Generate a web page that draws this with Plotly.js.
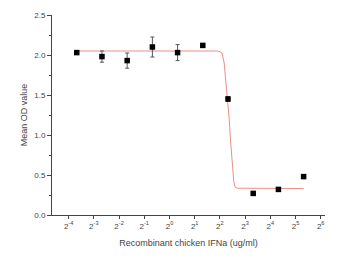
<!DOCTYPE html>
<html>
<head>
<meta charset="utf-8">
<script src="https://cdn.plot.ly/plotly-3.0.1.min.js"></script>
<style>html,body{margin:0;padding:0;background:#fff;}#chart{width:351px;height:259px;}</style>
</head>
<body>
<div id="chart"></div>
<script>
// Concentrations (ug/ml) of recombinant chicken IFNa
const concentrations = [0.078125, 0.15625, 0.3125, 0.625, 1.25, 2.5, 5, 10, 20, 40];
// Mean OD values
const meanOD = [2.03, 1.98, 1.93, 2.10, 2.03, 2.12, 1.45, 0.27, 0.32, 0.48];
// Error (SD) values
const errorOD = [0.02, 0.07, 0.095, 0.125, 0.10, 0.02, 0.03, 0.02, 0.01, 0.01];
// Fitted curve
const fitX = [0.078125, 3.73, 4.03, 4.26, 4.50, 4.76, 4.99, 5.17, 5.39, 5.62, 5.86, 6.06, 6.41, 40];
const fitY = [2.05, 2.05, 2.04, 2.02, 1.90, 1.62, 1.42, 1.20, 0.90, 0.60, 0.42, 0.35, 0.335, 0.33];
// X tick exponents / labels
const tickExp = [-4, -3, -2, -1, 0, 1, 2, 3, 4, 5, 6];
const tickVals = tickExp.map(e => Math.pow(2, e));
const tickText = tickExp.map(e => '2<sup>' + e + '</sup>');

const traces = [
  {
    x: fitX, y: fitY, type: 'scatter', mode: 'lines',
    line: {color: 'rgb(232,145,135)', width: 1}, hoverinfo: 'skip'
  },
  {
    x: concentrations, y: meanOD, type: 'scatter', mode: 'markers',
    marker: {symbol: 'square', size: 5.5, color: '#000'},
    error_y: {type: 'data', array: errorOD, visible: true, color: '#555', thickness: 1, width: 2}
  }
];

const font = {family: 'Liberation Sans, Arial, sans-serif', color: '#444'};
const layout = {
  width: 351, height: 259,
  margin: {l: 52, r: 26, t: 15, b: 44},
  paper_bgcolor: '#fff', plot_bgcolor: '#fff',
  showlegend: false,
  font: Object.assign({size: 8}, font),
  xaxis: {
    type: 'log',
    range: [Math.log10(Math.pow(2, -4.66)), Math.log10(Math.pow(2, 6.17))],
    tickmode: 'array', tickvals: tickVals, ticktext: tickText,
    ticks: 'outside', ticklen: 3, tickcolor: '#444', tickwidth: 1,
    showline: true, linecolor: '#444', linewidth: 1,
    showgrid: false, zeroline: false,
    tickfont: Object.assign({size: 8}, font),
    title: {text: 'Recombinant chicken IFNa (ug/ml)', font: Object.assign({size: 9}, font), standoff: 10}
  },
  yaxis: {
    range: [0, 2.5], dtick: 0.5, tickformat: '.1f',
    ticks: 'outside', ticklen: 4, tickcolor: '#444', tickwidth: 1,
    minor: {dtick: 0.25, ticks: 'outside', ticklen: 2, tickcolor: '#444', showgrid: false},
    showline: true, linecolor: '#444', linewidth: 1,
    showgrid: false, zeroline: false,
    tickfont: Object.assign({size: 8}, font),
    title: {text: 'Mean OD value', font: Object.assign({size: 9}, font), standoff: 5}
  }
};

Plotly.newPlot('chart', traces, layout, {displayModeBar: false, staticPlot: true});
</script>
</body>
</html>
